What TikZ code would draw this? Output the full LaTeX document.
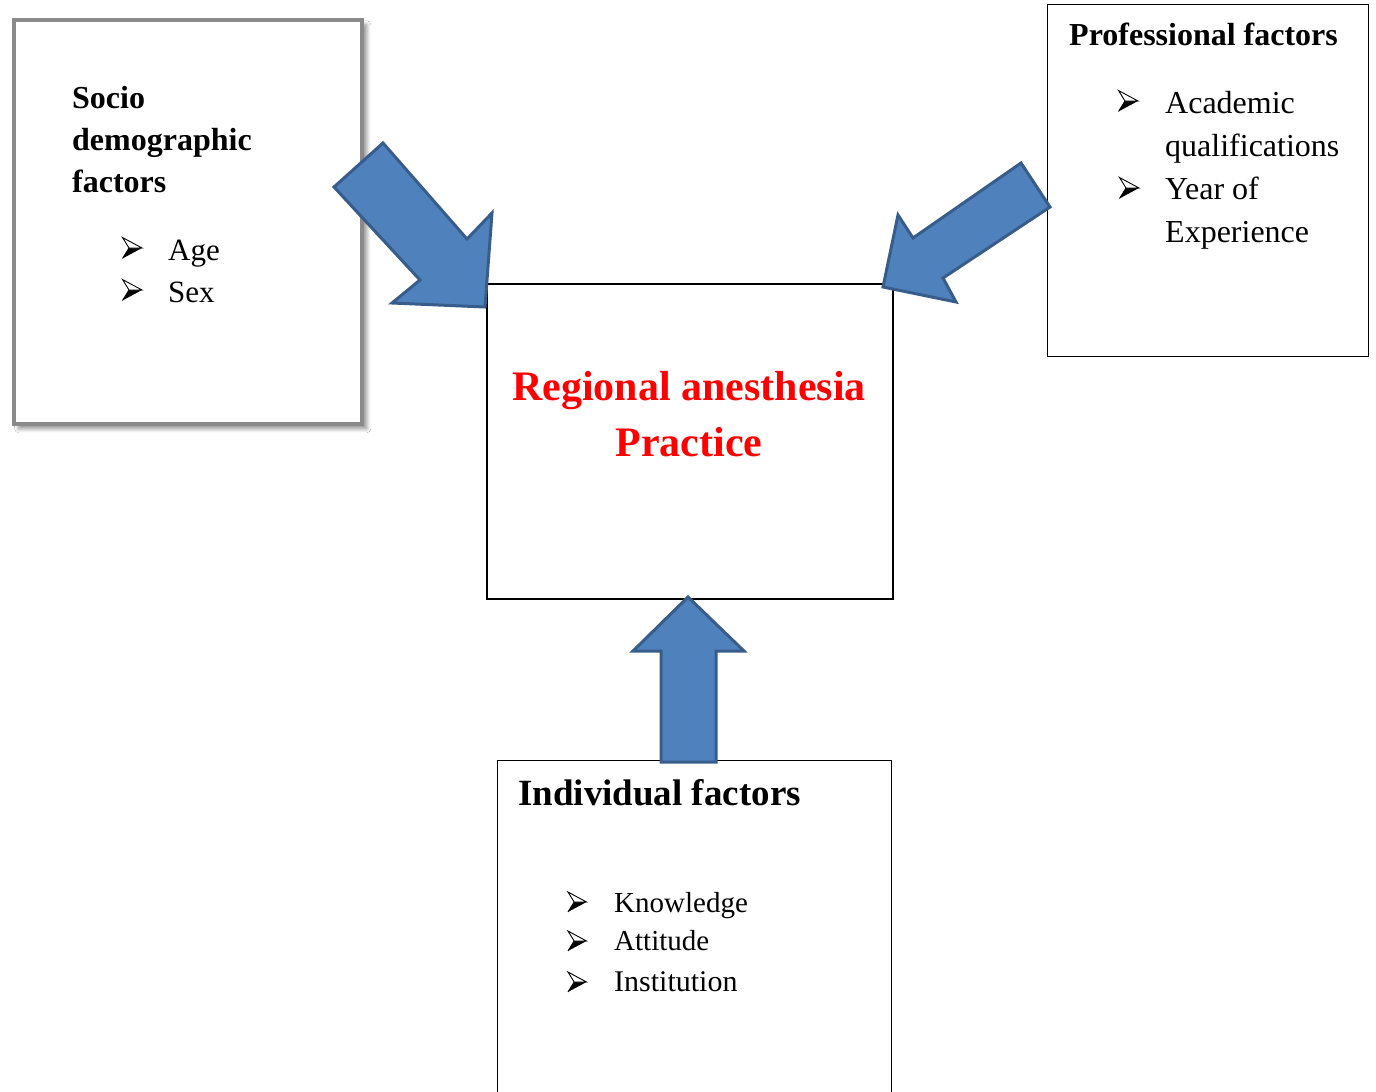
\documentclass[tikz,border=0pt]{standalone}
\usepackage{fontspec}
\setmainfont{Liberation Serif}
\usetikzlibrary{shadows.blur}
\definecolor{arrfill}{HTML}{4F81BD}
\definecolor{arrline}{HTML}{385D8A}
\definecolor{sociogray}{HTML}{8A8A8A}
\tikzset{
  frame/.style={draw=black, line width=1.4pt, anchor=north west, inner sep=0pt, fill=white},
  blockarrow/.style={fill=arrfill, draw=arrline, line width=3pt, line join=miter},
  headbold/.style={anchor=base west, inner sep=0pt, font=\bfseries\fontsize{32}{42}\selectfont},
  item/.style={anchor=base west, inner sep=0pt, font=\fontsize{31}{42}\selectfont},
  itemsmall/.style={anchor=base west, inner sep=0pt, font=\fontsize{29}{40}\selectfont},
  bularrow/.pic={
    \fill[black, line join=miter] (-9.5,10.5) -- (10,0) -- (-3,0) -- cycle;
    \draw[black, line width=0.9pt, fill=white, line join=miter] (-9.5,-10.5) -- (10,0) -- (-3,0) -- cycle;
    \draw[black, line width=0.9pt, line join=miter] (-3,0) -- (-9.5,10.5);
  }
}
\begin{document}
\begin{tikzpicture}[x=1pt,y=-1pt]
\useasboundingbox (0,0) rectangle (1376,1092);
\clip (0,0) rectangle (1376,1092);
\fill[white] (0,0) rectangle (1376,1092);

% boxes
\node[draw=sociogray, line width=3.5pt, anchor=north west, inner sep=0pt, fill=white,
      minimum width=348pt, minimum height=404pt,
      blur shadow={shadow xshift=5pt, shadow yshift=-5pt, shadow blur steps=8, shadow blur radius=4pt, shadow opacity=45}] (socio) at (12,18) {};
\node[frame, minimum width=321pt, minimum height=352pt] (prof) at (1047,4) {};
\node[frame, line width=1.8pt, minimum width=406pt, minimum height=315pt] (center) at (486,283) {};
\node[frame, minimum width=394pt, minimum height=360pt] (indiv) at (497,760) {};

% socio text
\node[headbold] (s1) at (72,108) {Socio};
\node[headbold] (s2) at (72,150) {demographic};
\node[headbold] (s3) at (72,192) {factors};
\pic (sb1) at (132,248) {bularrow};
\node[item] (si1) at (168,260) {Age};
\pic (sb2) at (132,290) {bularrow};
\node[item] (si2) at (168,302) {Sex};

% professional text
\node[headbold] (p0) at (1069,45) {Professional factors};
\pic (pb1) at (1128,101) {bularrow};
\node[item, font=\fontsize{32}{42}\selectfont] (pi1) at (1165,113) {Academic};
\node[item, font=\fontsize{32}{42}\selectfont] (pi2) at (1165,156) {qualifications};
\pic (pb2) at (1129,188) {bularrow};
\node[item, font=\fontsize{32}{42}\selectfont] (pi3) at (1165,199) {Year of};
\node[item, font=\fontsize{32}{42}\selectfont] (pi4) at (1165,242) {Experience};

% center text
\node[anchor=base, inner sep=0pt, text=red, font=\bfseries\fontsize{42}{56}\selectfont] (c1) at (689,400) {Regional anesthesia};
\node[anchor=base, inner sep=0pt, text=red, font=\bfseries\fontsize{42}{56}\selectfont] (c2) at (689,456) {Practice};

% individual text
\node[headbold, font=\bfseries\fontsize{37}{44}\selectfont] (i0) at (518,805) {Individual factors};
\pic[scale=0.95] (ib1) at (577,902) {bularrow};
\node[itemsmall] (ii1) at (614,912) {Knowledge};
\pic[scale=0.95] (ib2) at (577,941) {bularrow};
\node[itemsmall] (ii2) at (614,950) {Attitude};
\pic[scale=0.95] (ib3) at (577,982) {bularrow};
\node[itemsmall, font=\fontsize{30}{40}\selectfont] (ii3) at (614,991) {Institution};

% block arrows
\draw[blockarrow] (334,187) -- (383,143) -- (467,239) -- (492,213) -- (485,307) -- (392,303) -- (420,280) -- cycle;
\draw[blockarrow] (1021,163) -- (1050,207) -- (943,278) -- (956,302) -- (883,287) -- (898,215) -- (913,238) -- cycle;
\draw[blockarrow] (688,597) -- (744,651) -- (716,651) -- (716,762) -- (661,762) -- (661,651) -- (633,651) -- cycle;
\end{tikzpicture}
\end{document}
